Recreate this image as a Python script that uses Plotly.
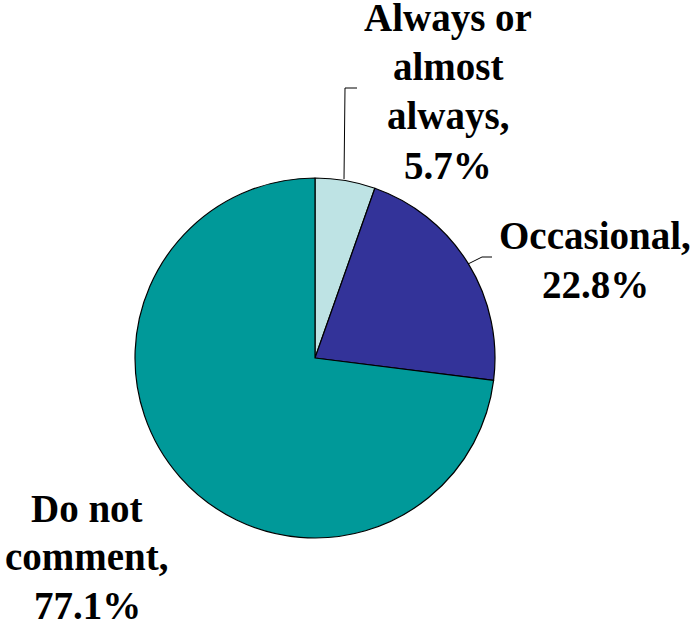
import plotly.graph_objects as go

categories = ["Always or almost always", "Occasional", "Do not comment"]
label_lines = [["Always or", "almost", "always,", "5.7%"],
               ["Occasional,", "22.8%"],
               ["Do not", "comment,", "77.1%"]]
values = [5.7, 22.8, 77.1]
colors = ["#BEE3E4", "#333399", "#009999"]

W, H = 696, 625

def px(x):
    return x / W

def py(y):
    return 1 - y / H

fig = go.Figure(go.Pie(
    labels=categories,
    values=values,
    sort=False,
    direction="clockwise",
    rotation=0,
    textinfo="none",
    hoverinfo="label+value",
    marker=dict(colors=colors, line=dict(color="black", width=1.2)),
    domain=dict(x=[px(135), px(495)], y=[py(538), py(178)]),
    showlegend=False,
))

FS = 39
font = dict(family="Liberation Serif", size=FS, color="black")
# (center x, first baseline y, line step) in pixels for each label block
blocks = [(448, 30, 49), (595, 247, 49.5), (87, 520, 48.5)]
for lines, (cx, by, step) in zip(label_lines, blocks):
    for i, line in enumerate(lines):
        base = by + i * step
        fig.add_annotation(x=px(cx), y=py(base - 12), xref="paper", yref="paper",
                           text="<b>" + line + "</b>", showarrow=False, borderpad=0,
                           font=font, xanchor="center", yanchor="middle")

# leader lines
leaders = [
    [(357, 88), (345, 88), (344, 179)],
    [(492, 257), (482, 257), (468, 264)],
]
for pts in leaders:
    for (x0, y0), (x1, y1) in zip(pts[:-1], pts[1:]):
        fig.add_shape(type="line", xref="paper", yref="paper",
                      x0=px(x0), y0=py(y0), x1=px(x1), y1=py(y1),
                      line=dict(color="black", width=1))

fig.update_layout(
    width=W, height=H,
    margin=dict(l=0, r=0, t=0, b=0),
    paper_bgcolor="white", plot_bgcolor="white",
)

fig.write_html("out.html", config={"displayModeBar": False},
               post_script="document.body.style.margin='0px';document.body.style.overflow='hidden';")
